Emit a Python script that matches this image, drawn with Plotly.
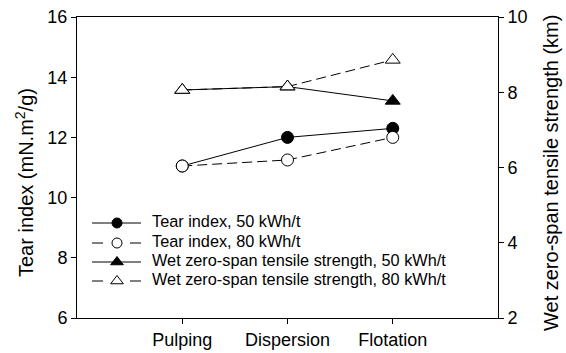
import plotly.graph_objects as go

# Process stages along the x axis
stages = ["Pulping", "Dispersion", "Flotation"]
stage_pos = [1, 2, 3]

# Tear index (mN.m2/g)
tear_50 = [11.05, 12.0, 12.3]
tear_80 = [11.05, 11.25, 12.0]

# Wet zero-span tensile strength (km)
wzs_50 = [8.06, 8.15, 7.77]
wzs_80 = [8.06, 8.15, 8.86]

series_names = [
    "Tear index, 50 kWh/t",
    "Tear index, 80 kWh/t",
    "Wet zero-span tensile strength, 50 kWh/t",
    "Wet zero-span tensile strength, 80 kWh/t",
]

FONT = "Liberation Sans, Arial, sans-serif"
W, H = 566, 353
L, R, T, B = 77, 68, 17, 35
DASH = "10px,5px"

styles = [
    dict(symbol="circle", fill="black", dash="solid", size=12, yaxis="y"),
    dict(symbol="circle", fill="white", dash=DASH, size=12, yaxis="y"),
    dict(symbol="triangle-up", fill="black", dash="solid", size=13, yaxis="y2"),
    dict(symbol="triangle-up", fill="white", dash=DASH, size=13, yaxis="y2"),
]
values = [tear_50, tear_80, wzs_50, wzs_80]

fig = go.Figure()

for name, vals, st in zip(series_names, values, styles):
    fig.add_trace(go.Scatter(
        x=stage_pos, y=vals, name=name, yaxis=st["yaxis"],
        mode="lines+markers", showlegend=False, hoverinfo="skip",
        line=dict(color="black", width=1, dash=st["dash"]),
        marker=dict(symbol=st["symbol"], size=st["size"], color=st["fill"],
                    line=dict(color="black", width=1)),
    ))

# Inset key drawn on a hidden overlay axis measured in pixels of the plot area
key_rows = [223, 243, 262, 281]
key_x0, key_xm, key_x1, key_tx = 92, 117, 141, 152
key_sizes = [10, 10, 11, 11]
for name, row, st, ms in zip(series_names, key_rows, styles, key_sizes):
    key_dash = "solid" if st["dash"] == "solid" else "11px,27px"
    fig.add_trace(go.Scatter(
        x=[key_x0, key_x1], y=[row, row], xaxis="x3", yaxis="y3",
        mode="lines", showlegend=False, hoverinfo="skip",
        line=dict(color="black", width=1, dash=key_dash),
    ))
    fig.add_trace(go.Scatter(
        x=[key_xm], y=[row], xaxis="x3", yaxis="y3",
        mode="markers", showlegend=False, hoverinfo="skip",
        marker=dict(symbol=st["symbol"], size=ms, color=st["fill"],
                    line=dict(color="black", width=1)),
    ))
    fig.add_trace(go.Scatter(
        x=[key_tx], y=[row], xaxis="x3", yaxis="y3",
        mode="text", text=[name], textposition="middle right",
        textfont=dict(family=FONT, size=16.3, color="black"),
        showlegend=False, hoverinfo="skip", cliponaxis=False,
    ))

tick_font = dict(family=FONT, size=18, color="black")
title_font = dict(family=FONT, size=20, color="black")

fig.update_layout(
    width=W, height=H,
    margin=dict(l=L, r=R, t=T, b=B, autoexpand=False),
    paper_bgcolor="white", plot_bgcolor="white",
    font=dict(family=FONT, size=16, color="black"),
    showlegend=False,
    xaxis=dict(
        range=[0, 4], tickmode="array", tickvals=stage_pos, ticktext=stages,
        showline=True, linecolor="black", linewidth=1, mirror=True,
        ticks="outside", ticklen=5, tickcolor="black", tickfont=tick_font,
        showgrid=False, zeroline=False, automargin=False,
    ),
    yaxis=dict(
        range=[6, 16], dtick=2,
        showline=True, linecolor="black", linewidth=1,
        ticks="outside", ticklen=5, tickcolor="black", tickfont=tick_font,
        showgrid=False, zeroline=False, automargin=False,
    ),
    yaxis2=dict(
        range=[2, 10], dtick=2, overlaying="y", side="right",
        showline=True, linecolor="black", linewidth=1,
        ticks="outside", ticklen=5, tickcolor="black", tickfont=tick_font,
        showgrid=False, zeroline=False, automargin=False,
    ),
    xaxis3=dict(range=[L, W - R], overlaying="x", visible=False,
                fixedrange=True, automargin=False),
    yaxis3=dict(range=[H - B, T], overlaying="y", visible=False,
                fixedrange=True, anchor="x3", automargin=False),
    annotations=[
        dict(text="Tear index (mN.m<sup>2</sup>/g)", textangle=-90,
             xref="paper", yref="paper", x=(24 - L) / (W - L - R),
             y=(H - B - 183) / (H - T - B), xanchor="center", yanchor="middle",
             showarrow=False, font=title_font),
        dict(text="Wet zero-span tensile strength (km)", textangle=-90,
             xref="paper", yref="paper", x=(551 - L) / (W - L - R),
             y=(H - B - 173) / (H - T - B), xanchor="center", yanchor="middle",
             showarrow=False, font=title_font),
    ],
)

fig.write_html("out.html")
